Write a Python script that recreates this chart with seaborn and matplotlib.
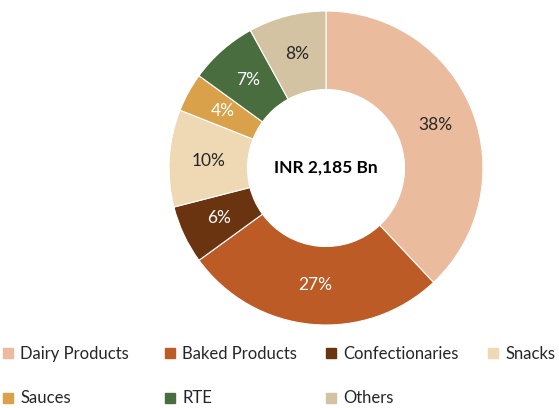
import matplotlib.pyplot as plt
import seaborn as sns
from matplotlib.lines import Line2D

# Market split
categories = ['Dairy Products', 'Baked Products', 'Confectionaries', 'Snacks',
              'Sauces', 'RTE', 'Others']
shares = [38, 27, 6, 10, 4, 7, 8]
colors = ['#EBBB9E', '#BC5B25', '#6B3410', '#EFD9B4', '#D9A24A', '#4A6D40', '#D3C3A2']
label_colors = ['#262626', 'white', 'white', '#262626', 'white', 'white', '#262626']
center_text = 'INR 2,185 Bn'

sns.set_theme(style='white')
plt.rcParams['font.family'] = ['Lato', 'DejaVu Sans']

fig = plt.figure(figsize=(5.59, 4.08), dpi=100)
r_px = 157
cx, cy = 326, 168
ax = fig.add_axes([(cx - r_px) / 559, (408 - cy - r_px) / 408, 2 * r_px / 559, 2 * r_px / 408])

wedges, texts, autotexts = ax.pie(
    shares, colors=colors, startangle=90, counterclock=False,
    autopct='%d%%', pctdistance=0.75,
    wedgeprops=dict(width=0.5, edgecolor='white', linewidth=0.8),
    textprops=dict(fontsize=12.5))
for t, c in zip(autotexts, label_colors):
    t.set_color(c)
ax.text(0, 0, center_text, ha='center', va='center', fontsize=12.5, fontweight='bold', color='black')
ax.set_xlim(-1, 1)
ax.set_ylim(-1, 1)
ax.set_aspect('equal')

# legend laid out as 4 equal-width columns, 2 rows
col_x = [3, 165, 326, 488]
for j, x in enumerate(col_x):
    idx = [i for i in (j, j + 4) if i < len(categories)]
    handles = [Line2D([0], [0], marker='s', linestyle='', markersize=7,
                      markerfacecolor=colors[i], markeredgecolor=colors[i]) for i in idx]
    leg = fig.legend(handles, [categories[i] for i in idx], loc='upper left',
                     bbox_to_anchor=(x / 559, (408 - 346) / 408), frameon=False,
                     fontsize=12, labelcolor='#262626', handlelength=0.6,
                     handletextpad=0.45, labelspacing=1.7, borderpad=0, borderaxespad=0)

fig.savefig('out.png', dpi=100)
